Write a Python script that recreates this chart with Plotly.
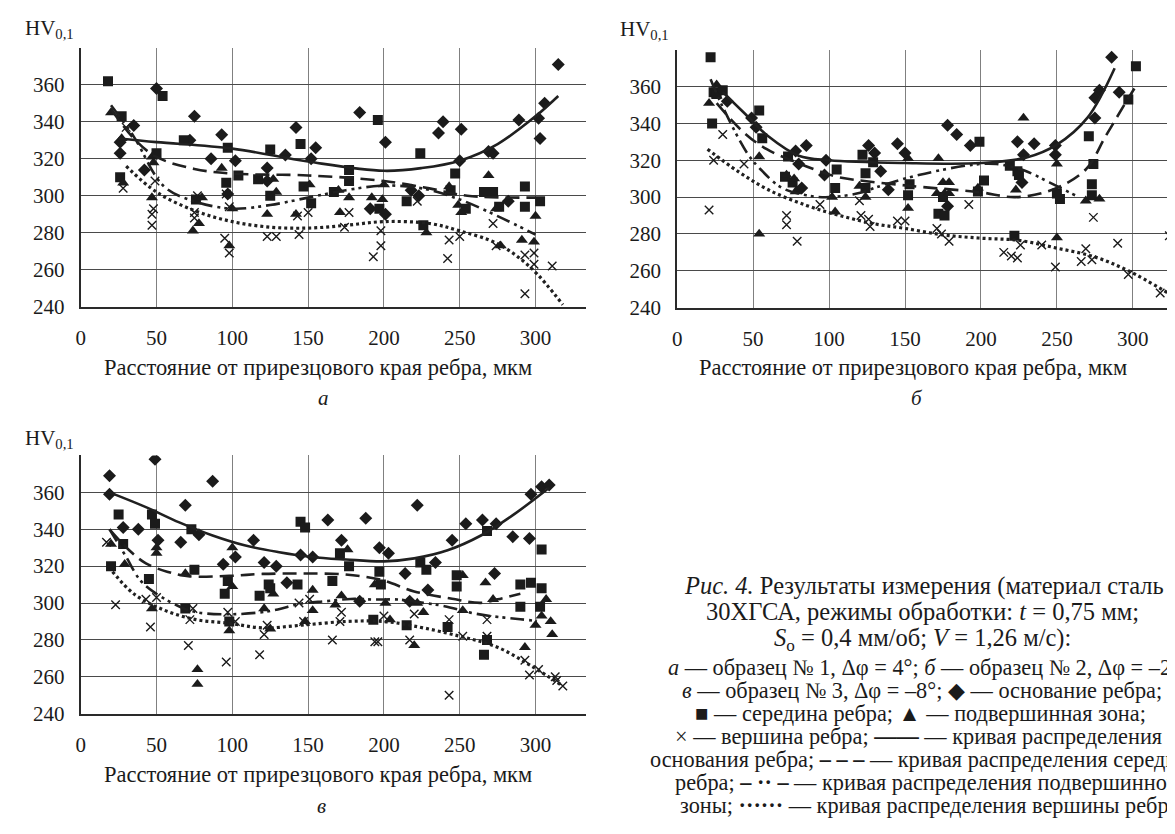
import plotly.graph_objects as go

# ---------------- DATA ----------------
# Panel а
A_DIA_X = [26, 26, 35, 42, 50, 72, 75, 86, 93, 97, 102, 123, 123, 135, 142, 152, 155, 184, 201, 191, 201, 218, 223, 236, 239, 251, 250, 269, 272, 282, 289, 302, 303, 306, 315]
A_DIA_Y = [323, 329, 338, 314, 358, 330, 343, 320, 333, 301, 319, 315, 308, 322, 337, 320, 326, 345, 329, 293, 290, 303, 300, 334, 340, 336, 319, 324, 323, 297, 341, 342, 331, 350, 371]
A_SQ_X = [18, 27, 26, 50, 54, 68, 76, 97, 96, 104, 117, 125, 125, 145, 147, 152, 167, 177, 177, 196, 197, 215, 224, 226, 247, 244, 254, 266, 272, 276, 293, 293, 303]
A_SQ_Y = [362, 343, 310, 323, 354, 330, 298, 326, 307, 311, 309, 300, 325, 328, 305, 296, 302, 314, 308, 341, 293, 297, 323, 284, 312, 303, 293, 302, 302, 294, 305, 294, 297]
A_TRI_X = [20, 27, 28, 47, 48, 47, 74, 78, 80, 93, 100, 98, 123, 127, 129, 142, 151, 170, 171, 177, 192, 199, 200, 228, 243, 249, 251, 269, 274, 277, 291, 299, 300]
A_TRI_Y = [345, 331, 307, 321, 318, 299, 281, 285, 299, 315, 293, 273, 290, 309, 302, 290, 306, 303, 291, 299, 299, 298, 306, 280, 305, 295, 291, 311, 293, 273, 276, 275, 289]
A_X_X = [28, 30, 47, 47, 48, 49, 77, 75, 75, 95, 98, 96, 98, 123, 129, 144, 150, 143, 174, 177, 193, 198, 198, 222, 243, 242, 250, 272, 274, 293, 293, 299, 299, 311]
A_X_Y = [304, 337, 284, 290, 293, 308, 300, 291, 288, 277, 269, 301, 294, 278, 278, 279, 291, 289, 283, 291, 267, 273, 281, 297, 276, 266, 278, 285, 273, 268, 247, 269, 263, 262]
A_C1_X = [25, 50, 100, 150, 200, 225, 250, 275, 300, 315]
A_C1_Y = [331, 329, 325.5, 318.5, 313.5, 315, 319, 328, 343, 354]
A_C2_X = [20, 35, 50, 75, 100, 150, 200, 230, 255, 300]
A_C2_Y = [347, 331, 321, 314.5, 312, 311, 308, 304, 300, 299]
A_C3_X = [20, 35, 55, 75, 100, 125, 150, 175, 200, 225, 250, 275, 300]
A_C3_Y = [349, 332, 305, 297, 293, 295, 299, 303, 305.5, 304, 298, 289, 279]
A_C4_X = [30, 50, 75, 100, 125, 150, 175, 200, 230, 250, 275, 297, 318]
A_C4_Y = [316, 302, 292, 286, 283, 282.5, 284, 286, 285, 281, 274, 261, 241]

# Panel б
B_DIA_X = [33, 49, 52, 78, 85, 80, 82, 98, 97, 126, 130, 134, 139, 145, 150, 178, 184, 193, 178, 224, 235, 228, 227, 249, 249, 275, 275, 278, 286, 291]
B_DIA_Y = [352, 343, 338, 325, 328, 318, 305, 320, 312, 328, 324, 314, 304, 329, 324, 339, 334, 328, 295, 330, 329, 323, 308, 328, 323, 343, 354, 358, 376, 357]
B_SQ_X = [22, 23, 24, 26, 30, 54, 56, 73, 71, 76, 105, 104, 122, 124, 129, 124, 153, 152, 172, 176, 175, 199, 202, 198, 219, 224, 225, 222, 250, 252, 271, 274, 273, 273, 297, 302]
B_SQ_Y = [376, 340, 357, 356, 358, 347, 332, 322, 311, 308, 315, 305, 323, 313, 319, 305, 307, 301, 291, 290, 300, 330, 309, 303, 317, 314, 312, 279, 302, 299, 333, 318, 307, 301, 353, 371]
B_TRI_X = [26, 21, 26, 54, 54, 72, 77, 78, 102, 104, 120, 124, 152, 152, 172, 171, 176, 179, 175, 179, 198, 223, 228, 250, 250, 269, 278]
B_TRI_Y = [361, 351, 355, 322, 280, 312, 310, 303, 300, 292, 306, 300, 321, 294, 321, 302, 302, 302, 308, 308, 305, 304, 343, 318, 278, 298, 299]
B_X_X = [21, 24, 30, 44, 72, 72, 79, 94, 120, 121, 126, 127, 145, 150, 171, 174, 179, 192, 215, 220, 224, 226, 240, 249, 269, 266, 273, 274, 290, 297, 318, 324]
B_X_Y = [293, 320, 334, 318, 290, 285, 276, 296, 298, 290, 288, 284, 287, 287, 283, 280, 276, 296, 270, 268, 267, 274, 274, 262, 272, 265, 266, 289, 275, 258, 248, 279]
B_C1_X = [30, 45, 60, 80, 100, 150, 200, 230, 250, 270, 288]
B_C1_Y = [357, 345, 333, 322.5, 320, 318.5, 318.5, 321.5, 328.5, 343, 370]
B_C2_X = [26, 44, 59, 79, 96, 107, 151, 199, 223, 247, 269, 282, 295, 301]
B_C2_Y = [351, 335, 326, 318.7, 313.4, 310.7, 306.3, 302.7, 300, 304, 315, 333, 351, 359]
B_C3_X = [22, 30, 46, 55, 69, 85, 100, 122, 131, 159, 194, 210, 229, 245, 262]
B_C3_Y = [364, 349, 324, 315, 305, 301, 300, 302.6, 305.3, 312, 317.5, 318, 314.3, 308, 301]
B_C4_X = [20, 40, 60, 85, 107, 130, 150, 175, 200, 225, 250, 275, 297, 323]
B_C4_Y = [326, 314, 304, 295.5, 290, 285.5, 283, 279.5, 277.7, 276.5, 272.3, 267.5, 260, 248]

# Panel в
C_DIA_X = [19, 19, 28, 38, 49, 51, 69, 66, 78, 87, 94, 102, 114, 121, 129, 136, 145, 153, 163, 172, 188, 184, 197, 203, 214, 217, 222, 229, 234, 245, 254, 265, 274, 273, 285, 296, 297, 304, 309]
C_DIA_Y = [369, 359, 341, 340, 378, 334, 353, 333, 337, 366, 321, 325, 334, 322, 320, 311, 326, 325, 345, 334, 346, 301, 330, 327, 316, 301, 353, 307, 322, 334, 343, 345, 343, 316, 336, 335, 359, 363, 364]
C_SQ_X = [20, 25, 28, 45, 47, 49, 69, 73, 75, 95, 97, 98, 118, 124, 125, 143, 145, 148, 166, 171, 177, 193, 197, 198, 215, 224, 228, 242, 248, 248, 268, 268, 266, 290, 297, 304, 304, 290, 303]
C_SQ_Y = [320, 348, 332, 313, 348, 343, 297, 340, 318, 305, 312, 290, 304, 310, 308, 310, 344, 341, 312, 327, 320, 291, 317, 310, 288, 322, 318, 287, 315, 309, 339, 280, 272, 310, 311, 308, 329, 298, 298]
C_TRI_X = [20, 29, 47, 50, 50, 69, 77, 77, 98, 100, 100, 121, 125, 127, 148, 153, 153, 168, 172, 176, 194, 201, 204, 220, 222, 226, 252, 252, 267, 272, 293, 300, 304, 307, 310, 311]
C_TRI_Y = [332, 321, 297, 330, 327, 316, 264, 256, 285, 309, 330, 297, 286, 305, 290, 307, 296, 299, 304, 329, 310, 300, 291, 277, 300, 295, 315, 296, 311, 302, 276, 288, 293, 302, 290, 283]
C_X_X = [17, 23, 43, 46, 50, 72, 71, 74, 96, 97, 102, 118, 123, 121, 144, 147, 151, 166, 172, 171, 194, 196, 200, 217, 220, 243, 243, 252, 268, 268, 293, 296, 302, 313, 314, 318]
C_X_Y = [333, 299, 302, 287, 303, 291, 277, 297, 268, 295, 290, 272, 288, 283, 300, 290, 302, 280, 295, 290, 279, 279, 293, 280, 294, 291, 250, 282, 282, 291, 269, 261, 264, 260, 258, 255]
C_C1_X = [19, 43, 65, 87, 108, 130, 152, 175, 200, 220, 242, 264, 286, 309]
C_C1_Y = [360, 352, 343.7, 336.6, 331.3, 327.7, 325, 323.6, 322.6, 324.2, 328.6, 336.6, 348.2, 362.5]
C_C2_X = [19, 32, 43, 57, 71, 98, 120, 146, 174, 198, 220, 245, 264, 275, 290]
C_C2_Y = [340, 328.6, 321.5, 317, 314.5, 314.7, 315.8, 316, 315.5, 312.6, 306.3, 302.3, 300.1, 302, 305]
C_C3_X = [19, 30, 39, 49, 67, 78, 98, 117, 130, 144, 162, 178, 194, 209, 226, 240, 257, 270, 290, 301]
C_C3_Y = [340, 325, 312.6, 305.5, 297.4, 294.8, 293.9, 294.8, 296.5, 299.5, 301, 302.2, 301.9, 301.9, 300.1, 298.3, 294.8, 293, 291.2, 290.3]
C_C4_X = [21, 35, 54, 76, 98, 120, 146, 175, 200, 220, 250, 275, 297, 318]
C_C4_Y = [317, 305, 296.5, 291, 289, 286.5, 288, 290, 290, 287.5, 282, 276, 266, 255]

X_TICKS = [0, 50, 100, 150, 200, 250, 300]
Y_TICKS = [240, 260, 280, 300, 320, 340, 360, 380]
Y_TICK_TEXT = ["240", "260", "280", "300", "320", "340", "360", ""]
X_TITLE = "Расстояние от прирезцового края ребра, мкм"
PANEL_LABELS = ["а", "б", "в"]
CAPTION_HEAD = [
    "<i>Рис. 4.</i> Результаты измерения (материал сталь",
    "30ХГСА, режимы обработки: <i>t</i> = 0,75 мм;",
    "<i>S</i><sub>о</sub> = 0,4 мм/об; <i>V</i> = 1,26 м/с):",
]
CAPTION_BODY = [
    "<i>а</i> — образец № 1, Δφ = 4°; <i>б</i> — образец № 2, Δφ = –2°",
    "<i>в</i> — образец № 3, Δφ = –8°; ◆ — основание ребра;",
    "■ — середина ребра; ▲ — подвершинная зона;",
    "× — вершина ребра; <b>——</b> — кривая распределения",
    "основания ребра; <b>– – –</b> — кривая распределения середины",
    "ребра; <b>– ·· –</b> — кривая распределения подвершинной",
    "зоны; <b>······</b> — кривая распределения вершины ребра",
]

# ---------------- FIGURE ----------------
W, H = 1175, 834
FONT = "Liberation Serif"
INK = "#1b1b1b"

def px(x):
    return x / W

def py(y):
    return 1 - y / H

fig = go.Figure()

panels = [
    dict(ax="x", ay="y", d=(A_DIA_X, A_DIA_Y, A_SQ_X, A_SQ_Y, A_TRI_X, A_TRI_Y, A_X_X, A_X_Y),
         c=((A_C1_X, A_C1_Y), (A_C2_X, A_C2_Y), (A_C3_X, A_C3_Y), (A_C4_X, A_C4_Y))),
    dict(ax="x2", ay="y2", d=(B_DIA_X, B_DIA_Y, B_SQ_X, B_SQ_Y, B_TRI_X, B_TRI_Y, B_X_X, B_X_Y),
         c=((B_C1_X, B_C1_Y), (B_C2_X, B_C2_Y), (B_C3_X, B_C3_Y), (B_C4_X, B_C4_Y))),
    dict(ax="x3", ay="y3", d=(C_DIA_X, C_DIA_Y, C_SQ_X, C_SQ_Y, C_TRI_X, C_TRI_Y, C_X_X, C_X_Y),
         c=((C_C1_X, C_C1_Y), (C_C2_X, C_C2_Y), (C_C3_X, C_C3_Y), (C_C4_X, C_C4_Y))),
]

dashes = ["solid", "14px,7px", "14px,5px,3px,4px,3px,5px", "3px,3px"]
widths = [2.6, 2.6, 2.6, 3.2]
markers = [
    dict(symbol="diamond", size=10, color=INK),
    dict(symbol="square", size=10, color=INK),
    dict(symbol="triangle-up", size=10.5, color=INK),
    dict(symbol="x-thin", size=8.5, color=INK, line=dict(color=INK, width=1.4)),
]

for p in panels:
    d = p["d"]
    for i in range(4):
        fig.add_trace(go.Scatter(x=d[2 * i], y=d[2 * i + 1], mode="markers",
                                 marker=markers[i], xaxis=p["ax"], yaxis=p["ay"],
                                 showlegend=False, hoverinfo="skip"))
    for i, (cx, cy) in enumerate(p["c"]):
        fig.add_trace(go.Scatter(x=cx, y=cy, mode="lines",
                                 line=dict(color="#202020", width=widths[i], dash=dashes[i],
                                           shape="spline", smoothing=1.0),
                                 xaxis=p["ax"], yaxis=p["ay"], showlegend=False,
                                 hoverinfo="skip"))

def xax(domain):
    return dict(domain=domain, range=[0, 333], tickvals=X_TICKS, showgrid=True,
                gridcolor="#808080", gridwidth=1, zeroline=False, showline=True,
                linecolor="#2a2a2a", linewidth=1.8, ticks="", ticklabelstandoff=11,
                tickfont=dict(family=FONT, size=21, color=INK), fixedrange=True)

def yax(domain, anchor):
    return dict(domain=domain, range=[240, 380], tickvals=Y_TICKS, ticktext=Y_TICK_TEXT,
                showgrid=True, gridcolor="#4a4a4a", gridwidth=1, zeroline=False,
                showline=True, linecolor="#2a2a2a", linewidth=2, ticks="",
                ticklabelstandoff=10, anchor=anchor,
                tickfont=dict(family=FONT, size=21, color=INK), fixedrange=True)

XA = [px(68), px(575)]
XB = [px(667), 1.0]
YA = [py(303), py(40.5)]
YB = [py(304), py(42.4)]
YC = [py(716), py(454)]

fig.update_layout(
    width=W, height=H, margin=dict(l=0, r=0, t=0, b=0),
    paper_bgcolor="white", plot_bgcolor="white", showlegend=False,
    xaxis=dict(xax(XA), anchor="y"),
    yaxis=yax(YA, "x"),
    xaxis2=dict(xax(XB), anchor="y2"),
    yaxis2=yax(YB, "x2"),
    xaxis3=dict(xax(XA), anchor="y3"),
    yaxis3=yax(YC, "x3"),
)

ann = []
def text(x, y, s, size=19, xanchor="center", yanchor="middle"):
    ann.append(dict(x=px(x), y=py(y), xref="paper", yref="paper", text=s, showarrow=False,
                    xanchor=xanchor, yanchor=yanchor,
                    font=dict(family=FONT, size=size, color=INK)))

# y-axis labels
text(10, 21, "HV<sub>0,1</sub>", 21, "left")
text(608, 22, "HV<sub>0,1</sub>", 21, "left")
text(10, 437, "HV<sub>0,1</sub>", 21, "left")
# x-axis titles
text(306, 365, X_TITLE, 22.5)
text(904, 365, X_TITLE, 22.5)
text(306, 778, X_TITLE, 22.5)
# panel letters
text(312, 396, "<i>%s</i>" % PANEL_LABELS[0], 21)
text(908, 396, "<i>%s</i>" % PANEL_LABELS[1], 21)
text(310, 810, "<i>%s</i>" % PANEL_LABELS[2], 21)

# caption (centred block, runs off the right edge as in the reference)
head_x = [915, 913, 913]
head_y = [586, 612, 641]
body_x = [915, 913, 911, 909, 918, 918, 920]
body_y = [669, 692, 716, 739, 762, 786, 809]
for xx, yy, t in zip(head_x, head_y, CAPTION_HEAD):
    text(xx, yy, t, 24.5)
for xx, yy, t in zip(body_x, body_y, CAPTION_BODY):
    text(xx, yy, t, 22.3)

fig.update_layout(annotations=ann)
fig.write_html("out.html")
